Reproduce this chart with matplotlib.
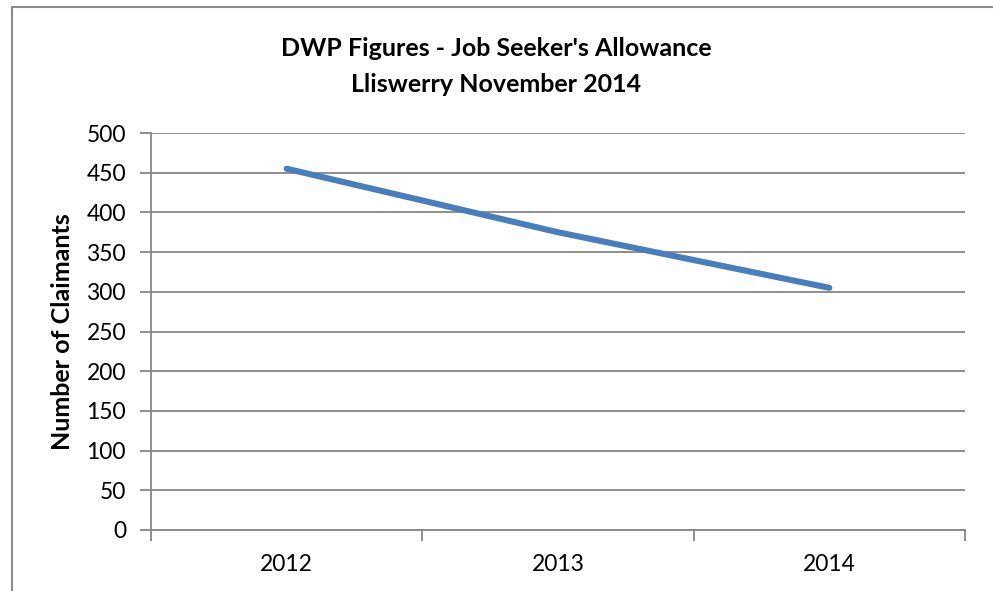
import matplotlib.pyplot as plt
from matplotlib.patches import Rectangle

years = ['2012', '2013', '2014']
claimants = [455, 375, 305]

plt.rcParams['font.family'] = ['Lato', 'DejaVu Sans']

fig = plt.figure(figsize=(9.93, 5.91), dpi=100)
ax = fig.add_axes([151 / 993, 61 / 591, 814 / 993, 397 / 591])

# chart border (runs off right and bottom edge like the screenshot)
fig.patches.append(Rectangle((12 / 993, -0.1), 1.2, 1 - 7 / 591 + 0.1,
                             transform=fig.transFigure, fill=False,
                             edgecolor='#8c8c8c', linewidth=1.5))

x = list(range(1, len(years) + 1))
ax.plot(x, claimants, color='#4a7ebb', linewidth=4.4, solid_capstyle='round', zorder=3)

ax.set_xlim(0.5, len(years) + 0.5)
ax.set_ylim(0, 500)
ax.set_yticks(range(0, 501, 50))
ax.grid(axis='y', color='#868686', linewidth=1.3)
ax.set_axisbelow(True)

# category boundaries as tick marks, labels in between
ax.set_xticks([i + 0.5 for i in range(len(years) + 1)])
ax.set_xticklabels([])
ax.set_xticks(x, minor=True)
ax.set_xticklabels(years, minor=True)
ax.tick_params(axis='x', which='major', length=8, width=1.3, color='#868686', direction='out')
ax.tick_params(axis='x', which='minor', length=0, pad=17, labelsize=16.5)
ax.tick_params(axis='y', length=8, width=1.3, color='#868686', labelsize=16.5, pad=10)

for s in ['top', 'right']:
    ax.spines[s].set_visible(False)
for s in ['left', 'bottom']:
    ax.spines[s].set_color('#868686')
    ax.spines[s].set_linewidth(1.3)

ax.set_ylabel('Number of Claimants', fontsize=18, fontweight='bold')
ax.yaxis.set_label_coords((74 - 151) / 814, 0.5)

fig.text(0.5, 1 - 48 / 591, "DWP Figures - Job Seeker's Allowance", ha='center', va='center',
         fontsize=18, fontweight='bold')
fig.text(0.5, 1 - 85 / 591, "Lliswerry November 2014", ha='center', va='center',
         fontsize=18, fontweight='bold')

fig.savefig('out.png', dpi=100)
